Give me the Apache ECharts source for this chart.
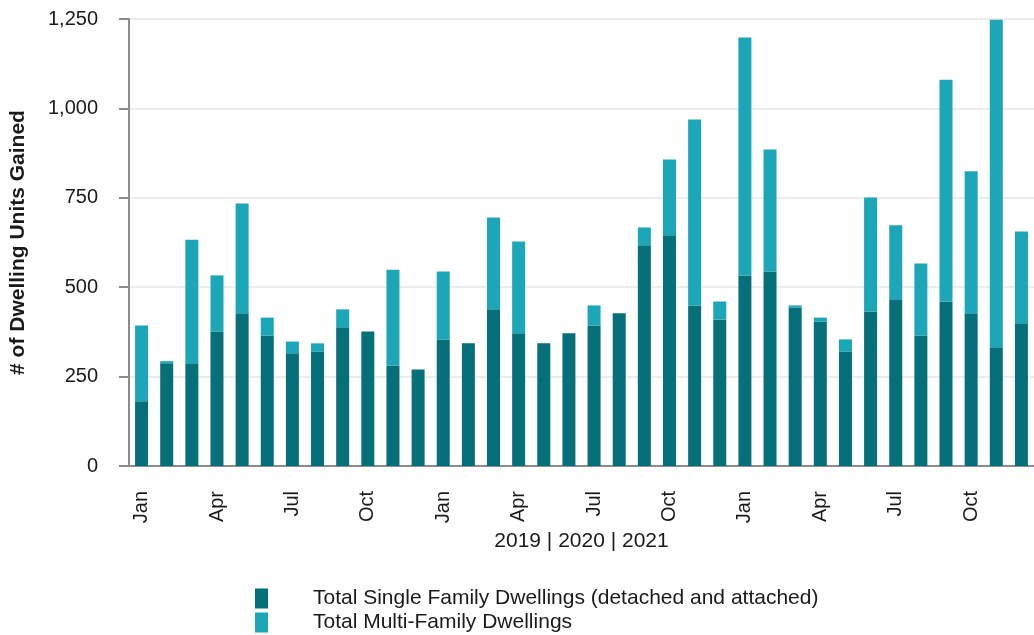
<!DOCTYPE html>
<html>
<head>
<meta charset="utf-8">
<script src="https://cdn.jsdelivr.net/npm/echarts@6/dist/echarts.min.js"></script>
<style>
  html, body { margin: 0; padding: 0; background: #fff; }
  #chart { width: 1034px; height: 635px; }
</style>
</head>
<body>
<div id="chart"></div>
<script>
  const months = [
    "Jan", "Feb", "Mar", "Apr", "May", "Jun", "Jul", "Aug", "Sep", "Oct", "Nov", "Dec",
    "Jan", "Feb", "Mar", "Apr", "May", "Jun", "Jul", "Aug", "Sep", "Oct", "Nov", "Dec",
    "Jan", "Feb", "Mar", "Apr", "May", "Jun", "Jul", "Aug", "Sep", "Oct", "Nov", "Dec"
  ];
  const singleFamily = [
    181, 287, 287, 376, 427, 365, 315, 320, 388, 376, 281, 270,
    354, 343, 438, 371, 343, 371, 393, 427, 617, 645, 449, 410,
    533, 544, 443, 404, 320, 432, 466, 365, 460, 427, 332, 399
  ];
  const multiFamily = [
    212, 6, 346, 157, 307, 50, 33, 23, 50, 0, 268, 0,
    190, 0, 257, 257, 0, 0, 56, 0, 50, 212, 520, 50,
    665, 341, 6, 11, 34, 319, 207, 201, 620, 397, 916, 257
  ];
  const seriesNames = [
    "Total Single Family Dwellings (detached and attached)",
    "Total Multi-Family Dwellings"
  ];

  const fontFamily = "'Liberation Sans', Arial, sans-serif";
  const textColor = "#1a1a1a";
  const axisGray = "#8c8c8c";

  const chart = echarts.init(document.getElementById("chart"), null, { renderer: "canvas" });

  chart.setOption({
    animation: false,
    textStyle: { fontFamily },
    grid: { left: 129, right: -7, top: 19, bottom: 169, containLabel: false },
    legend: {
      orient: "vertical",
      left: 255,
      top: 588,
      padding: 0,
      itemWidth: 13,
      itemHeight: 20,
      itemGap: 3,
      icon: "rect",
      textStyle: { fontSize: 21, color: textColor, padding: [0, 0, 0, 40] },
      data: seriesNames
    },
    xAxis: {
      type: "category",
      data: months,
      name: "2019 | 2020 | 2021",
      nameLocation: "middle",
      nameGap: 63,
      nameTextStyle: { fontSize: 21, color: textColor },
      axisLine: { lineStyle: { color: axisGray, width: 2 } },
      axisTick: { interval: 2, alignWithLabel: true, length: 10, lineStyle: { color: axisGray, width: 2 } },
      axisLabel: { interval: 2, rotate: 90, fontSize: 20, color: textColor, margin: 25 }
    },
    yAxis: {
      type: "value",
      min: 0,
      max: 1250,
      interval: 250,
      name: "# of Dwelling Units Gained",
      nameLocation: "middle",
      nameGap: 100,
      nameTextStyle: { fontSize: 21, fontWeight: "bold", color: textColor },
      axisLine: { show: true, lineStyle: { color: axisGray, width: 2 } },
      axisTick: { show: true, length: 10, lineStyle: { color: axisGray, width: 2 } },
      axisLabel: {
        fontSize: 20,
        color: textColor,
        margin: 31,
        formatter: (v) => v.toLocaleString("en-US")
      },
      splitLine: { lineStyle: { color: "#e6e6e6", width: 1.5 } }
    },
    series: [
      {
        name: seriesNames[0],
        type: "bar",
        stack: "total",
        barWidth: 13,
        itemStyle: { color: "#05707a" },
        data: singleFamily
      },
      {
        name: seriesNames[1],
        type: "bar",
        stack: "total",
        barWidth: 13,
        itemStyle: { color: "#1ca7b8" },
        data: multiFamily
      }
    ]
  });

  window.addEventListener("resize", () => chart.resize());
</script>
</body>
</html>
